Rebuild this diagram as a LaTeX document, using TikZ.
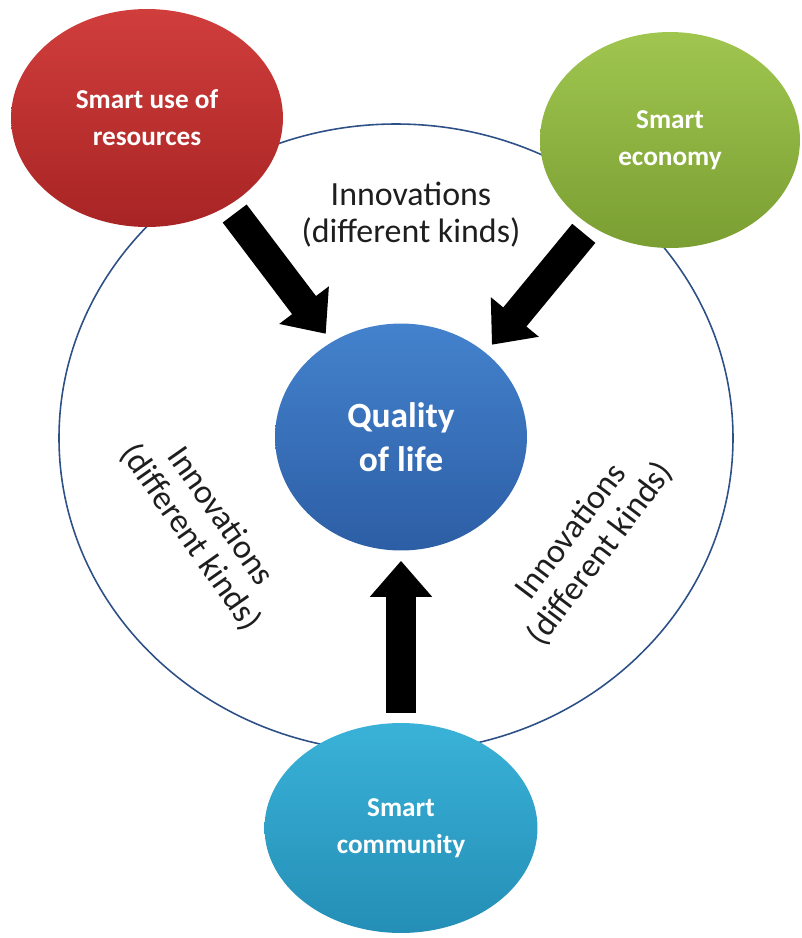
\documentclass[tikz,border=0pt]{standalone}
\usepackage{fontspec}
\setmainfont{Carlito}
\usetikzlibrary{shapes.geometric,arrows.meta}

\definecolor{redtop}{RGB}{208,62,60}
\definecolor{redbot}{RGB}{168,36,36}
\definecolor{greentop}{RGB}{160,198,80}
\definecolor{greenbot}{RGB}{122,158,50}
\definecolor{bluetop}{RGB}{68,130,205}
\definecolor{bluebot}{RGB}{44,94,165}
\definecolor{cyantop}{RGB}{58,178,216}
\definecolor{cyanbot}{RGB}{36,142,182}
\definecolor{ringblue}{RGB}{45,80,135}
\definecolor{inktext}{RGB}{30,30,30}

\begin{document}
\begin{tikzpicture}[x=0.02cm, y=-0.02cm,
  blob/.style={ellipse, inner sep=0pt, text=white, align=center,
    font=\bfseries\fontsize{15.5}{21}\selectfont},
  bigarrow/.style={line width=0.6cm, -{Triangle[width=1.2cm,length=0.72cm]},
    shorten <=0.2cm, shorten >=0.2cm},
  note/.style={align=center, text=inktext, font=\fontsize{19.3}{21}\selectfont}]
\useasboundingbox (0,0) rectangle (802,938);
% outer ring
\draw[ringblue, line width=0.9pt] (396,438) ellipse (337 and 314);
% the four areas
\node[blob, minimum width=5.44cm, minimum height=4.36cm, top color=redtop, bottom color=redbot] (res) at (147,118) {Smart use of\\resources};
\node[blob, minimum width=5.2cm, minimum height=4.32cm, top color=greentop, bottom color=greenbot] (eco) at (670,140) {Smart\\economy};
\node[blob, minimum width=5.04cm, minimum height=4.54cm, top color=bluetop, bottom color=bluebot, font=\bfseries\fontsize{20.2}{25}\selectfont] (qol) at (401,437) {Quality\\of life};
\node[blob, minimum width=5.46cm, minimum height=4.2cm, top color=cyantop, bottom color=cyanbot] (com) at (401,828) {Smart\\community};
% arrows
\draw[bigarrow] (res.-47) -- (qol.126);
\draw[bigarrow] (eco.227) -- (qol.45);
\draw[bigarrow] (com.north) -- (qol.south);
% labels
\node[note] (top) at (411,215) {Innovations\\(different kinds)};
\node[note, rotate=-55] (left) at (205,527) {Innovations\\(different kinds)};
\node[note, rotate=53] (right) at (586,543) {Innovations\\(different kinds)};
\end{tikzpicture}
\end{document}
